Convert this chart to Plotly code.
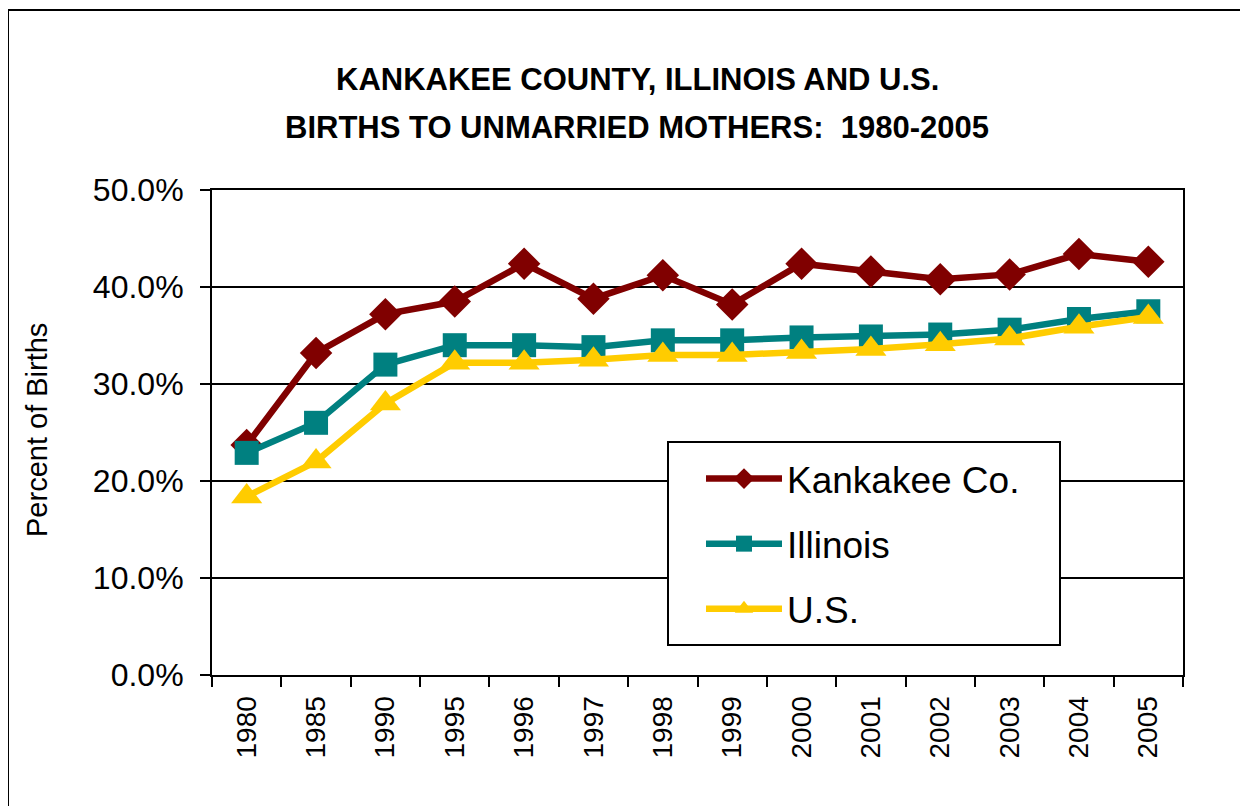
import plotly.graph_objects as go

years = ["1980", "1985", "1990", "1995", "1996", "1997", "1998", "1999",
         "2000", "2001", "2002", "2003", "2004", "2005"]
kankakee = [23.7, 33.2, 37.2, 38.5, 42.4, 38.8, 41.2, 38.2, 42.4, 41.6, 40.8, 41.3, 43.4, 42.6]
illinois = [22.9, 26.0, 32.0, 34.0, 34.0, 33.8, 34.5, 34.5, 34.8, 34.9, 35.1, 35.6, 36.7, 37.5]
us = [18.4, 22.0, 28.0, 32.2, 32.2, 32.5, 33.0, 33.0, 33.3, 33.6, 34.1, 34.7, 35.9, 36.9]

# page body has an 8px margin; work in reference-pixel space and shift
OFF = 8
W, H = 1248 - OFF, 806 - OFF
L, R, T, B = 212 - OFF, 1183 - OFF, 190 - OFF, 675 - OFF
pw, ph = R - L, B - T

def px(x):
    return (x - OFF - L) / pw

def py(y):
    return (B - (y - OFF)) / ph

font = "Liberation Sans, Arial, sans-serif"

fig = go.Figure()
series = [
    ("Kankakee Co.", kankakee, "#800000", "diamond", 25),
    ("Illinois", illinois, "#008080", "square", 24),
    ("U.S.", us, "#FFCC00", "triangle-up", 27),
]
for name, vals, color, sym, size in series:
    fig.add_trace(go.Scatter(
        x=years, y=vals, name=name, mode="lines+markers",
        line=dict(color=color, width=6.5),
        marker=dict(symbol=sym, size=size, color=color),
        legendgroup=name,
    ))

fig.update_layout(
    width=W, height=H,
    margin=dict(l=L, r=W - R, t=T, b=H - B, autoexpand=False),
    paper_bgcolor="white", plot_bgcolor="white",
    font=dict(family=font, color="black"),
    showlegend=True,
    legend=dict(
        x=px(701), y=py(448), xanchor="left", yanchor="top",
        bgcolor="rgba(0,0,0,0)", borderwidth=0,
        font=dict(size=37, family=font),
        tracegroupgap=14, itemwidth=76,
    ),
    xaxis=dict(
        type="category", range=[-0.5, 13.5],
        showline=True, linecolor="black", linewidth=2, mirror=True,
        ticks="outside", tickson="boundaries", ticklen=10, tickwidth=2, tickcolor="black",
        tickangle=-90, tickfont=dict(size=28, family=font), ticklabelstandoff=8,
        showgrid=False, zeroline=False,
    ),
    yaxis=dict(
        range=[0, 50], dtick=10, tick0=0, tickformat=".1f", ticksuffix="%",
        showline=True, linecolor="black", linewidth=2, mirror=True,
        ticks="outside", ticklen=10, tickwidth=2, tickcolor="black",
        tickfont=dict(size=32, family=font), ticklabelstandoff=10,
        showgrid=True, gridcolor="black", gridwidth=2, zeroline=False,
    ),
    shapes=[
        dict(type="rect", xref="paper", yref="paper",
             x0=px(8), x1=px(1300), y0=py(860), y1=py(10),
             line=dict(color="black", width=2), fillcolor="rgba(0,0,0,0)", layer="below"),
        dict(type="rect", xref="paper", yref="paper",
             x0=px(668), x1=px(1060), y0=py(645), y1=py(442),
             line=dict(color="black", width=2), fillcolor="white", layer="above"),
    ],
    annotations=[
        dict(text="<b>KANKAKEE COUNTY, ILLINOIS AND U.S.</b>", xref="paper", yref="paper",
             x=px(637), y=py(80), xanchor="center", yanchor="middle", showarrow=False,
             font=dict(size=31, family=font)),
        dict(text="<b>BIRTHS TO UNMARRIED MOTHERS:  1980-2005</b>", xref="paper", yref="paper",
             x=px(637), y=py(127), xanchor="center", yanchor="middle", showarrow=False,
             font=dict(size=31, family=font)),
        dict(text="Percent of Births", xref="paper", yref="paper",
             x=px(37), y=py(430), xanchor="center", yanchor="middle", showarrow=False,
             textangle=-90, font=dict(size=29, family=font)),
    ],
)

fig.write_html("out.html")
